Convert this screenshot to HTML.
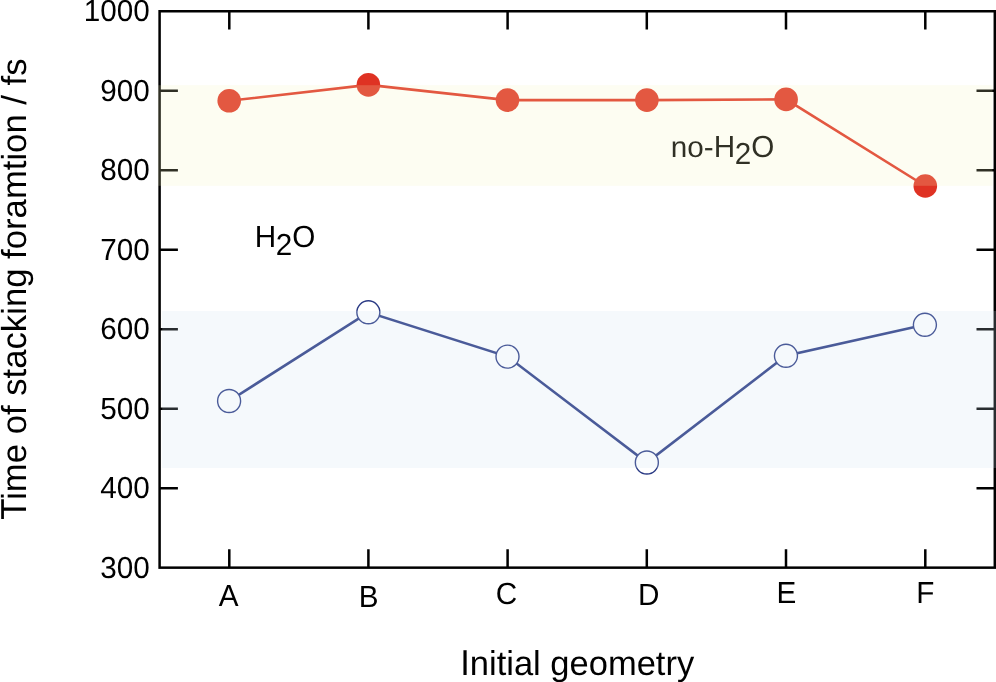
<!DOCTYPE html>
<html><head><meta charset="utf-8"><style>
html,body{margin:0;padding:0;background:#fff;}
body{width:996px;height:682px;overflow:hidden;}
svg{display:block;will-change:transform;}
</style></head><body>
<svg width="996" height="682" viewBox="0 0 996 682">
<rect x="0" y="0" width="996" height="682" fill="#fff"/>
<rect x="159.6" y="11.25" width="835.1999999999999" height="556.4" fill="none" stroke="#000" stroke-width="2.5"/>
<path d="M159.6 488.21H177.9M994.8 488.21H976.5M159.6 408.72H177.9M994.8 408.72H976.5M159.6 329.22H177.9M994.8 329.22H976.5M159.6 249.73H177.9M994.8 249.73H976.5M159.6 170.24H177.9M994.8 170.24H976.5M159.6 90.74H177.9M994.8 90.74H976.5M229.3 11.25V29.55M229.3 567.65V549.35M368.4 11.25V29.55M368.4 567.65V549.35M507.6 11.25V29.55M507.6 567.65V549.35M646.8 11.25V29.55M646.8 567.65V549.35M786.0 11.25V29.55M786.0 567.65V549.35M925.3 11.25V29.55M925.3 567.65V549.35" stroke="#000" stroke-width="2.5" fill="none"/>
<polyline points="229.2,100.8 368.4,84.9 507.5,100.1 646.9,100.1 786.1,99.4 925.3,186.0" fill="none" stroke="#df3223" stroke-width="2.6"/>
<polyline points="229.1,401.0 368.35,312.3 507.5,356.6 646.85,462.5 785.95,355.8 924.9,324.8" fill="none" stroke="#2a3a84" stroke-width="2.6"/>
<circle cx="229.2" cy="100.8" r="11.8" fill="#df3223"/>
<circle cx="368.4" cy="84.9" r="11.8" fill="#df3223"/>
<circle cx="507.5" cy="100.1" r="11.8" fill="#df3223"/>
<circle cx="646.9" cy="100.1" r="11.8" fill="#df3223"/>
<circle cx="786.1" cy="99.4" r="11.8" fill="#df3223"/>
<circle cx="925.3" cy="186.0" r="11.8" fill="#df3223"/>
<circle cx="229.1" cy="401.0" r="11.5" fill="#fff" stroke="#2a3a84" stroke-width="1.4"/>
<circle cx="368.35" cy="312.3" r="11.5" fill="#fff" stroke="#2a3a84" stroke-width="1.4"/>
<circle cx="507.5" cy="356.6" r="11.5" fill="#fff" stroke="#2a3a84" stroke-width="1.4"/>
<circle cx="646.85" cy="462.5" r="11.5" fill="#fff" stroke="#2a3a84" stroke-width="1.4"/>
<circle cx="785.95" cy="355.8" r="11.5" fill="#fff" stroke="#2a3a84" stroke-width="1.4"/>
<circle cx="924.9" cy="324.8" r="11.5" fill="#fff" stroke="#2a3a84" stroke-width="1.4"/>
<g font-family="&quot;Liberation Sans&quot;, sans-serif" text-rendering="geometricPrecision" fill="#000"><text transform="translate(149.76 577.70) scale(1.01 1.035)" font-size="29.4" text-anchor="end">300</text><text transform="translate(149.76 498.21) scale(1.01 1.035)" font-size="29.4" text-anchor="end">400</text><text transform="translate(149.76 418.72) scale(1.01 1.035)" font-size="29.4" text-anchor="end">500</text><text transform="translate(149.76 339.22) scale(1.01 1.035)" font-size="29.4" text-anchor="end">600</text><text transform="translate(149.76 259.73) scale(1.01 1.035)" font-size="29.4" text-anchor="end">700</text><text transform="translate(149.76 180.24) scale(1.01 1.035)" font-size="29.4" text-anchor="end">800</text><text transform="translate(149.76 100.74) scale(1.01 1.035)" font-size="29.4" text-anchor="end">900</text><text transform="translate(149.76 21.25) scale(1.01 1.035)" font-size="29.4" text-anchor="end">1000</text><text transform="translate(218.84 606.20) scale(1.01 1.035)" font-size="29.4">A</text><text transform="translate(358.66 607.20) scale(1.01 1.035)" font-size="29.4">B</text><text transform="translate(495.85 604.00) scale(1.01 1.035)" font-size="29.4">C</text><text transform="translate(638.06 604.60) scale(1.01 1.035)" font-size="29.4">D</text><text transform="translate(776.56 602.60) scale(1.01 1.035)" font-size="29.4">E</text><text transform="translate(916.26 602.60) scale(1.01 1.035)" font-size="29.4">F</text><text transform="translate(254.77 246.90) scale(1.01 1.035)" font-size="29.4">H<tspan dx="-0.4" dy="7.9">2</tspan><tspan dy="-7.9">O</tspan></text><text transform="translate(670.84 157.10) scale(1.01 1.0)" font-size="29.4">no-</text><text transform="translate(713.77 157.00) scale(1.01 1.035)" font-size="29.4">H<tspan dx="-0.5" dy="6.6">2</tspan><tspan dy="-6.6">O</tspan></text><text font-size="34.5" transform="translate(460.23 674.8) scale(1 1.045)">I</text><text font-size="34.5" x="469.81" y="674.8">nitial geometry</text><text font-size="34.7" transform="translate(25.5 519.76) rotate(-90) scale(1 1.04)">T</text><text font-size="34.7" transform="translate(25.5 499.87) rotate(-90)">ime of stacking foramtion / fs</text></g>
<rect x="158.2" y="85.2" width="834.3" height="100.6" fill="#f4f5bd" fill-opacity="0.195"/>
<rect x="162.2" y="311.0" width="833.8" height="157.0" fill="#cde1f0" fill-opacity="0.2"/>
</svg>
</body></html>
